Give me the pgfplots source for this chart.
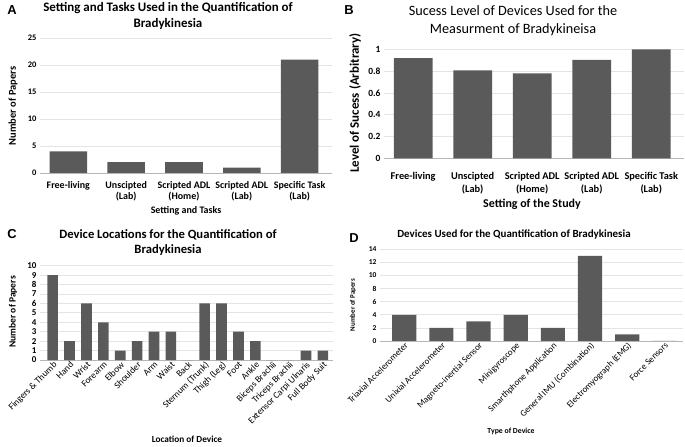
\documentclass[border=0pt]{standalone}
\usepackage{fontspec}
\setmainfont{Carlito}
\newfontfamily\letterfont{Liberation Sans}
\usepackage{pgfplots}
\pgfplotsset{compat=1.18}
\definecolor{bargray}{HTML}{5A5A5A}
\definecolor{gridgray}{HTML}{E4E4E4}
\newcommand{\fs}[2]{\fontsize{#1}{#2}\selectfont}
\pgfplotsset{
  panel/.style={
    scale only axis, ybar, bar width=0.65,
    axis x line*=bottom, axis y line*=left,
    y axis line style={draw=none},
    x axis line style={draw=gridgray!80!black},
    ymajorgrids, grid style={draw=gridgray, line width=0.7bp},
    major tick length=0pt, ymin=0, xtick=data,
    /pgf/number format/assume math mode=true,
    clip=false, anchor=south west,
  },
}
\begin{document}
\begin{tikzpicture}
\useasboundingbox (0,0) rectangle (685bp,447bp);

% ---------- A ----------
\node[font=\letterfont\bfseries\fs{13}{14}] at (12bp,437bp) {A};
\node[font=\bfseries\fs{13}{15.5}, align=center] at (168bp,431bp)
  {Setting and Tasks Used in the Quantification of\\Bradykinesia};
\begin{axis}[panel, at={(40bp,274bp)}, width=292bp, height=135bp,
  xmin=-0.49, xmax=4.56, ymax=25, ytick={0,5,...,25},
  yticklabel style={font=\bfseries\fs{8.5}{9}},
  xticklabel style={font=\bfseries\fs{10}{11}, align=center, yshift=-5bp},
  xticklabels={Free-living,{Unscipted\\(Lab)},{Scripted ADL\\(Home)},{Scripted ADL\\(Lab)},{Specific Task\\(Lab)}}]
\addplot[fill=bargray, draw=none] coordinates {(0,4) (1,2) (2,2) (3,1) (4,21)};
\end{axis}
\node[font=\bfseries\fs{10.5}{11}, rotate=90] at (13bp,341bp) {Number of Papers};
\node[font=\bfseries\fs{10}{11}] at (186bp,236bp) {Setting and Tasks};

% ---------- B ----------
\node[font=\letterfont\bfseries\fs{13}{14}] at (349bp,437bp) {B};
\node[font=\fs{14.3}{18}, align=center] at (513bp,426bp)
  {Sucess Level of Devices Used for the\\Measurment of Bradykineisa};
\begin{axis}[panel, at={(384bp,288.7bp)}, width=300bp, height=109bp,
  xmin=-0.49, xmax=4.55, ymax=1, ytick={0,0.2,...,1},
  yticklabel style={font=\bfseries\fs{9.5}{10}},
  xticklabel style={font=\bfseries\fs{10.4}{13}, align=center, yshift=-10bp},
  xticklabels={Free-living,{Unscipted\\(Lab)},{Scripted ADL\\(Home)},{Scripted ADL\\(Lab)},{Specific Task\\(Lab)}}]
\addplot[fill=bargray, draw=none] coordinates {(0,0.92) (1,0.806) (2,0.779) (3,0.903) (4,1)};
\end{axis}
\node[font=\bfseries\fs{13}{14}, rotate=90] at (355bp,344bp) {Level of Sucess (Arbitrary)};
\node[font=\bfseries\fs{12}{13}] at (532bp,243bp) {Setting of the Study};

% ---------- C ----------
\node[font=\letterfont\bfseries\fs{13}{14}] at (12bp,213bp) {C};
\node[font=\bfseries\fs{12.7}{15}, align=center] at (168bp,204.5bp)
  {Device Locations for the Quantification of\\Bradykinesia};
\begin{axis}[panel, at={(40bp,87bp)}, width=293bp, height=94.3bp,
  bar width=0.63, xmin=-0.75, xmax=16.6, ymax=10, ytick={0,1,...,10},
  yticklabel style={font=\bfseries\fs{9}{9}},
  xticklabel style={font=\fs{9.3}{10}, rotate=45, anchor=north east, inner sep=0.5bp},
  xticklabels={Fingers \& Thumb,Hand,Wrist,Forearm,Elbow,Shoulder,Arm,Waist,Back,Sternum (Trunk),Thigh (Leg),Foot,Ankle,Biceps Brachii,Triceps Brachii,Extensor Carpi Ulnaris,Full Body Suit}]
\addplot[fill=bargray, draw=none] coordinates {(0,9) (1,2) (2,6) (3,4) (4,1) (5,2) (6,3) (7,3) (8,0) (9,6) (10,6) (11,3) (12,2) (13,0) (14,0) (15,1) (16,1)};
\end{axis}
\node[font=\bfseries\fs{9.6}{10}, rotate=90] at (13bp,135bp) {Number of Papers};
\node[font=\bfseries\fs{9.3}{10}] at (187bp,8bp) {Location of Device};

% ---------- D ----------
\node[font=\letterfont\bfseries\fs{13}{14}] at (354bp,209bp) {D};
\node[font=\bfseries\fs{11}{12}] at (514bp,212bp)
  {Devices Used for the Quantification of Bradykinesia};
\begin{axis}[panel, at={(380bp,106bp)}, width=303bp, height=91.7bp,
  xmin=-0.65, xmax=7.5, ymax=14, ytick={0,2,...,14},
  yticklabel style={font=\bfseries\fs{7.5}{8}},
  xticklabel style={font=\fs{9}{10}, rotate=45, anchor=north east, inner sep=0.5bp},
  xticklabels={Triaxial Accelerometer,Unixial Accelerometer,Magneto-inertial Sensor,Minigyroscope,Smarthphone Application,General IMU (Combination),Electromyograph (EMG),Force Sensors}]
\addplot[fill=bargray, draw=none] coordinates {(0,4) (1,2) (2,3) (3,4) (4,2) (5,13) (6,1) (7,0)};
\end{axis}
\node[font=\bfseries\fs{7}{8}, rotate=90] at (353bp,142bp) {Number of Papers};
\node[font=\bfseries\fs{7.8}{8}] at (511bp,16bp) {Type of Device};
\end{tikzpicture}
\end{document}
